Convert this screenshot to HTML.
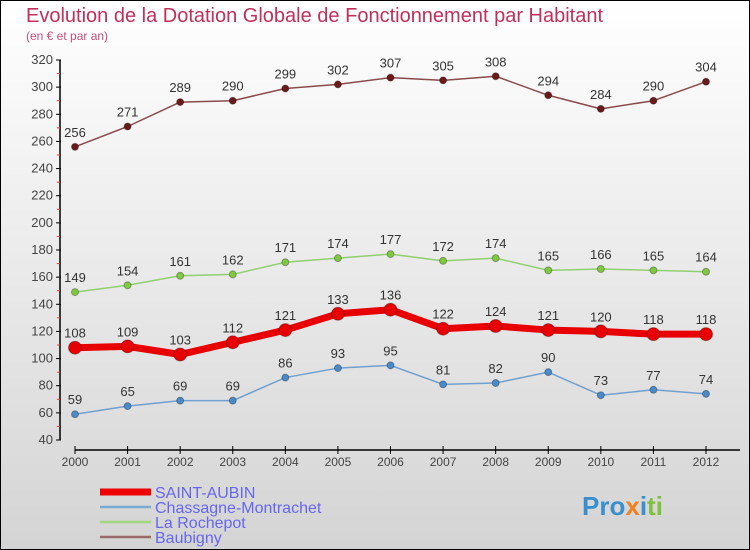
<!DOCTYPE html>
<html><head><meta charset="utf-8"><style>
body{margin:0}
#c{width:750px;height:550px;position:relative;box-sizing:border-box;border:1px solid #000;background:linear-gradient(#fff,#d4d4d4);font-family:"Liberation Sans",sans-serif;overflow:hidden}
</style></head><body>
<div id="c">
<svg width="748" height="548" viewBox="1 1 748 548" id="s">
<text x="26" y="22" font-size="20" fill="#c0305a">Evolution de la Dotation Globale de Fonctionnement par Habitant</text>
<text x="26" y="40" font-size="12" fill="#c0507a">(en € et par an)</text>
<g id="axes"></g><g id="series"></g>
<g font-size="16" fill="#6666ee">
<line x1="100" y1="492" x2="151" y2="492" stroke="#e00" stroke-width="7"/>
<text x="155" y="498">SAINT-AUBIN</text>
<line x1="100" y1="507" x2="151" y2="507" stroke="#7aaad0" stroke-width="2.5"/>
<text x="155" y="513">Chassagne-Montrachet</text>
<line x1="100" y1="522" x2="151" y2="522" stroke="#a0d880" stroke-width="2.5"/>
<text x="155" y="528">La Rochepot</text>
<line x1="100" y1="537" x2="151" y2="537" stroke="#9a6a6a" stroke-width="2.5"/>
<text x="155" y="543">Baubigny</text>
</g>
<text x="582" y="515" font-size="26" font-weight="bold"><tspan fill="#3a8fd0">Pro</tspan><tspan fill="#f08020">x</tspan><tspan fill="#3a8fd0">i</tspan><tspan fill="#80c040">ti</tspan></text>
</svg></div>
<script>
const years=[2000,2001,2002,2003,2004,2005,2006,2007,2008,2009,2010,2011,2012];
const yTicks=[40,60,80,100,120,140,160,180,200,220,240,260,280,300,320];
const saintAubin=[108,109,103,112,121,133,136,122,124,121,120,118,118];
const chassagne=[59,65,69,69,86,93,95,81,82,90,73,77,74];
const rochepot=[149,154,161,162,171,174,177,172,174,165,166,165,164];
const baubigny=[256,271,289,290,299,302,307,305,308,294,284,290,304];
const NS='http://www.w3.org/2000/svg';
const X=i=>75+i*(706-75)/12;
const Y=v=>440-(v-40)*380/280;
function mk(t,a,p){const e=document.createElementNS(NS,t);for(const k in a)e.setAttribute(k,a[k]);p.appendChild(e);return e;}
const ax=document.getElementById('axes');
let l=mk('line',{x1:60,y1:60,x2:60,y2:440,stroke:'#000','stroke-width':1.5},ax);


l=mk('line',{x1:75,y1:450,x2:740,y2:450,stroke:'#000','stroke-width':1.5},ax);


yTicks.forEach(v=>{
 mk('line',{x1:56,y1:Y(v),x2:61,y2:Y(v),stroke:'#000'},ax);
 if(v<320){mk('line',{x1:57,y1:Y(v+10),x2:60,y2:Y(v+10),stroke:'#f33'},ax);}
 const t=mk('text',{x:53,y:Y(v)+4,'text-anchor':'end','font-size':13,fill:'#444'},ax);
 t.textContent=v;
 
 
});
years.forEach((y,i)=>{
 mk('line',{x1:X(i),y1:446,x2:X(i),y2:454,stroke:'#000'},ax);
 const t=mk('text',{x:X(i),y:466,'text-anchor':'middle','font-size':12,fill:'#444'},ax);
 t.textContent=y;
 
 
});
const sg=document.getElementById('series');
function draw(data,name,line,w,dot,r){
 const g=mk('g',{},sg);
 
 
 const p=mk('polyline',{points:data.map((v,i)=>X(i)+','+Y(v)).join(' '),fill:'none',stroke:line,'stroke-width':w,'stroke-linejoin':'round'},g);
 
 
 data.forEach((v,i)=>{
  const c=mk('circle',{cx:X(i),cy:Y(v),r:r,fill:dot,stroke:'rgba(0,0,0,0.3)'},g);
  
  
  const t=mk('text',{x:X(i),y:Y(v)-10,'text-anchor':'middle','font-size':13,fill:'#333'},g);
  t.textContent=v;
  
  
 });
}
draw(baubigny,'baubigny','#8a4a4a',1.5,'#6a1a1a',3.5);
draw(rochepot,'la-rochepot','#90d070',1.5,'#80c840',3.5);
draw(chassagne,'chassagne-montrachet','#70a0d0',1.5,'#4a8ac8',3.5);
draw(saintAubin,'saint-aubin','#e80000',7,'#e80000',6.5);
</script>
</body></html>
